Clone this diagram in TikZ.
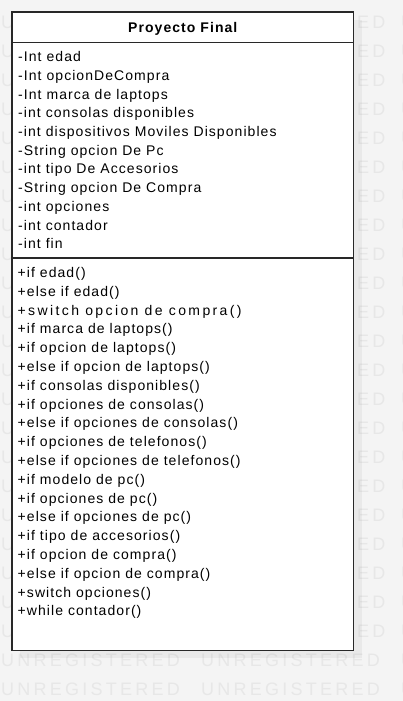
\documentclass[tikz,border=0pt]{standalone}
\usepackage{fontspec}
\setmainfont{Liberation Sans}
\newfontfamily\umlfont{Liberation Sans}[LetterSpace=7.6]
\newfontfamily\umlwide{Liberation Sans}[LetterSpace=17]
\newfontfamily\wmfont{Liberation Sans}[LetterSpace=18]
\definecolor{bgcol}{RGB}{244,244,244}
\definecolor{wmcol}{RGB}{231,231,231}
\definecolor{boxcol}{RGB}{40,40,40}

\begin{document}
\begin{tikzpicture}[x=1pt,y=-1pt,
		member/.style={anchor=base west,inner sep=0pt,font=\umlfont\fontsize{14}{16}\selectfont},
		wmark/.style={anchor=base west,inner sep=0pt,text=wmcol,font=\wmfont\fontsize{18}{20}\selectfont}]
			\useasboundingbox[fill=bgcol] (0,0) rectangle (403,701);
			% watermark, only the parts outside the class box
			\foreach \r in {0,...,21} {
				\node[wmark] (wl\r) at (1,28.2+29*\r) {U};
				\node[wmark] (wr\r) at (357,28.2+29*\r) {ED};
				\node[wmark] (wu\r) at (401,28.2+29*\r) {U};
			}
			\foreach \r in {22,23} {
				\node[wmark] (wa\r) at (1,28.2+29*\r) {UNREGISTERED};
				\node[wmark] (wb\r) at (201,28.2+29*\r) {UNREGISTERED};
				\node[wmark] (wu\r) at (401,28.2+29*\r) {U};
			}
			\fill[black,opacity=0.045] (20,20) rectangle (362,658);
			\draw[draw=boxcol,fill=white,line width=1.3pt] (12,12) rectangle (353.5,650.5);
			\draw[boxcol,line width=1.3pt] (12,42.5) -- (353.5,42.5);
			\draw[boxcol,line width=1.3pt] (12,258) -- (353.5,258);
			\node[anchor=base,inner sep=0pt,font=\umlfont\bfseries\fontsize{14}{16}\selectfont] (title) at (182.75,33) {Proyecto Final};
			\foreach \t [count=\i from 0] in {-Int edad,-Int opcionDeCompra,-Int marca de laptops,-int consolas disponibles,-int dispositivos Moviles Disponibles,-String opcion De Pc,-int tipo De Accesorios,-String opcion De Compra,-int opciones,-int contador,-int fin} {
				\node[member] (a\i) at (18,61.7+18.7*\i) {\t};
			}
			\foreach \t [count=\i from 0] in {+if edad(),+else if edad(),{\umlwide +switch opcion de compra()},+if marca de laptops(),+if opcion de laptops(),+else if opcion de laptops(),+if consolas disponibles(),+if opciones de consolas(),+else if opciones de consolas(),+if opciones de telefonos(),+else if opciones de telefonos(),+if modelo de pc(),+if opciones de pc(),+else if opciones de pc(),+if tipo de accesorios(),+if opcion de compra(),+else if opcion de compra(),+switch opciones(),+while contador()} {
				\node[member] (m\i) at (17.5,277.5+18.8*\i) {\t};
			}
		\end{tikzpicture}
\end{document}
